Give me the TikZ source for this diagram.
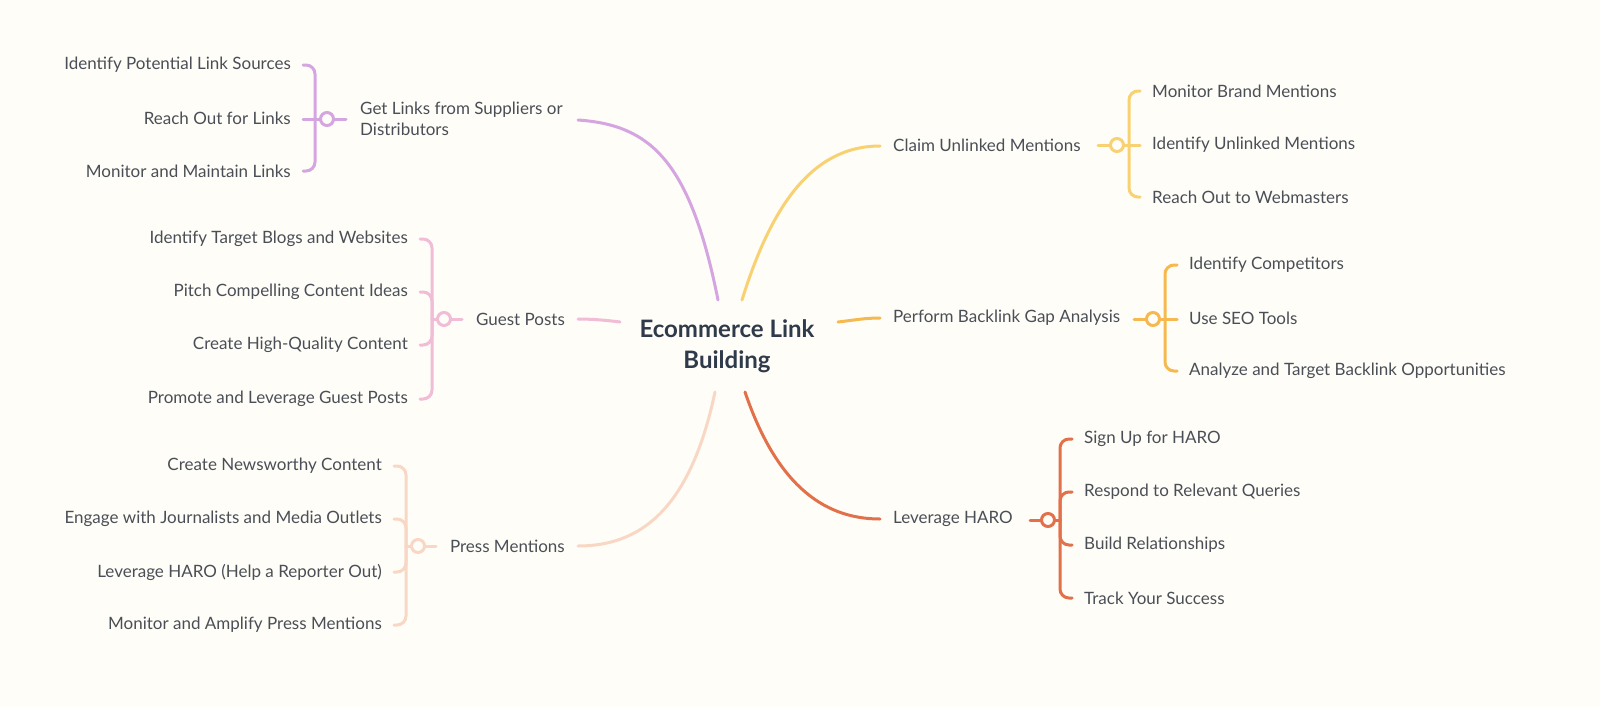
\documentclass[tikz,border=0pt]{standalone}
\usepackage{fontspec}
\setmainfont{Lato}
\definecolor{bg}{HTML}{FFFDF7}
\definecolor{cpur}{HTML}{D4A5E0}
\definecolor{cpink}{HTML}{F0BCD6}
\definecolor{cpeach}{HTML}{F8D8C5}
\definecolor{cyel}{HTML}{F8D272}
\definecolor{corg}{HTML}{F5B94F}
\definecolor{cred}{HTML}{E2704A}
\definecolor{txt}{HTML}{4A4F57}
\definecolor{ttl}{HTML}{2F3A4A}
\tikzset{
 lbl/.style={inner sep=0pt,text=txt,font=\fontsize{17}{21}\selectfont,align=left},
 lnk/.style={line width=3pt,line cap=round},
 br/.style={line width=3pt,rounded corners=9pt,line cap=round},
 hubc/.style={circle,line width=3pt,fill=bg,minimum size=13pt,inner sep=0pt}
}
\begin{document}
\begin{tikzpicture}[x=1pt,y=-1pt]
\fill[bg] (0,0) rectangle (1600,707);
\useasboundingbox (0,0) rectangle (1600,707);
\node[inner sep=0pt,align=center,text=ttl,font=\bfseries\fontsize{24}{31}\selectfont] (root) at (727,346) {Ecommerce Link\\Building};
% ---- Purple
\node[lbl,anchor=west] (p) at (360,119) {Get Links from Suppliers or\\Distributors};
\coordinate (pa) at (718,300); \coordinate (pb) at (578,120);
\draw[lnk,cpur] (pa) .. controls (690,160) and (650,125) .. (pb);
\node[lbl,anchor=east] (p1) at (291,65) {Identify Potential Link Sources};
\node[lbl,anchor=east] (p2) at (291,118) {Reach Out for Links};
\node[lbl,anchor=east] (p3) at (291,171) {Monitor and Maintain Links};
\coordinate (ph) at (327,119);
\draw[br,cpur] (315,119) |- (303,65); \draw[br,cpur] (315,119) |- (303,171);
\draw[br,cpur] (303,119) -- (346,119);
\node[hubc,draw=cpur] (phc) at (ph) {};
% ---- Pink
\node[lbl,anchor=east] (g) at (565,319) {Guest Posts};
\coordinate (ga) at (620,322); \coordinate (gb) at (578,319);
\draw[lnk,cpink] (ga) .. controls (605,320) and (590,319) .. (gb);
\node[lbl,anchor=east] (g1) at (408,239) {Identify Target Blogs and Websites};
\node[lbl,anchor=east] (g2) at (408,292) {Pitch Compelling Content Ideas};
\node[lbl,anchor=east] (g3) at (408,345) {Create High-Quality Content};
\node[lbl,anchor=east] (g4) at (408,399) {Promote and Leverage Guest Posts};
\coordinate (gh) at (444,319);
\draw[br,cpink] (432,319) |- (420,239); \draw[br,cpink] (432,319) |- (420,292);
\draw[br,cpink] (432,319) |- (420,345); \draw[br,cpink] (432,319) |- (420,399);
\draw[br,cpink] (432,319) -- (462,319);
\node[hubc,draw=cpink] (ghc) at (gh) {};
% ---- Peach
\node[lbl,anchor=east] (m) at (565,546) {Press Mentions};
\coordinate (ma) at (715,392); \coordinate (mb) at (578,546);
\draw[lnk,cpeach] (ma) .. controls (690,510) and (640,546) .. (mb);
\node[lbl,anchor=east] (m1) at (382,466) {Create Newsworthy Content};
\node[lbl,anchor=east] (m2) at (382,519) {Engage with Journalists and Media Outlets};
\node[lbl,anchor=east] (m3) at (382,572) {Leverage HARO (Help a Reporter Out)};
\node[lbl,anchor=east] (m4) at (382,625) {Monitor and Amplify Press Mentions};
\coordinate (mh) at (418,546);
\draw[br,cpeach] (406,546) |- (394,466); \draw[br,cpeach] (406,546) |- (394,519);
\draw[br,cpeach] (406,546) |- (394,572); \draw[br,cpeach] (406,546) |- (394,625);
\draw[br,cpeach] (406,546) -- (436,546);
\node[hubc,draw=cpeach] (mhc) at (mh) {};
% ---- Yellow
\node[lbl,anchor=west] (c) at (893,145) {Claim Unlinked Mentions};
\coordinate (ca) at (742,300); \coordinate (cb) at (880,146);
\draw[lnk,cyel] (ca) .. controls (770,210) and (810,146) .. (cb);
\node[lbl,anchor=west] (c1) at (1152,91) {Monitor Brand Mentions};
\node[lbl,anchor=west] (c2) at (1152,145) {Identify Unlinked Mentions};
\node[lbl,anchor=west] (c3) at (1152,197) {Reach Out to Webmasters};
\coordinate (ch) at (1117,145);
\draw[br,cyel] (1129,145) |- (1140,91); \draw[br,cyel] (1129,145) |- (1140,197);
\draw[br,cyel] (1098,145) -- (1140,145);
\node[hubc,draw=cyel] (chc) at (ch) {};
% ---- Orange
\node[lbl,anchor=west] (b) at (893,318) {Perform Backlink Gap Analysis};
\coordinate (ba) at (838,322); \coordinate (bb) at (880,318);
\draw[lnk,corg] (ba) .. controls (855,320) and (865,318) .. (bb);
\node[lbl,anchor=west] (b1) at (1189,265) {Identify Competitors};
\node[lbl,anchor=west] (b2) at (1189,318) {Use SEO Tools};
\node[lbl,anchor=west] (b3) at (1189,371) {Analyze and Target Backlink Opportunities};
\coordinate (bh) at (1153,319);
\draw[br,corg] (1165,319) |- (1177,265); \draw[br,corg] (1165,319) |- (1177,371);
\draw[br,corg] (1134,319) -- (1177,319);
\node[hubc,draw=corg] (bhc) at (bh) {};
% ---- Red
\node[lbl,anchor=west] (h) at (893,519) {Leverage HARO};
\coordinate (ha) at (745,392); \coordinate (hb) at (880,519);
\draw[lnk,cred] (ha) .. controls (775,480) and (820,519) .. (hb);
\node[lbl,anchor=west] (h1) at (1084,439) {Sign Up for HARO};
\node[lbl,anchor=west] (h2) at (1084,492) {Respond to Relevant Queries};
\node[lbl,anchor=west] (h3) at (1084,545) {Build Relationships};
\node[lbl,anchor=west] (h4) at (1084,598) {Track Your Success};
\coordinate (hh) at (1048,520);
\draw[br,cred] (1060,520) |- (1072,439); \draw[br,cred] (1060,520) |- (1072,492);
\draw[br,cred] (1060,520) |- (1072,545); \draw[br,cred] (1060,520) |- (1072,598);
\draw[br,cred] (1030,520) -- (1060,520);
\node[hubc,draw=cred] (hhc) at (hh) {};
\end{tikzpicture}
\end{document}
